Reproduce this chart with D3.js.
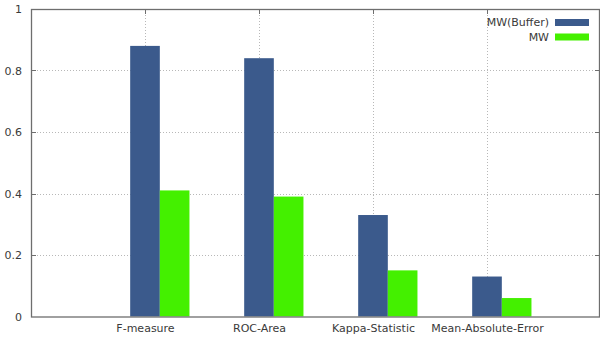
<!DOCTYPE html>
<html><head><meta charset="utf-8">
<script src="https://cdn.jsdelivr.net/npm/d3@7"></script>
<style>
body{margin:0;background:#fff;}
text{font-family:"DejaVu Sans",Verdana,sans-serif;}
</style></head>
<body><svg id="c" width="600" height="340"></svg>
<script>
const categories = ["F-measure","ROC-Area","Kappa-Statistic","Mean-Absolute-Error"];
const seriesNames = ["MW(Buffer)","MW"];
const mwBuffer = [0.88, 0.84, 0.33, 0.13];
const mw = [0.41, 0.39, 0.15, 0.06];
const yTicks = [0, 0.2, 0.4, 0.6, 0.8, 1];
const yTickLabels = ["0","0.2","0.4","0.6","0.8","1"];
const colors = ["#3b5a8c","#44f000"];

const svg = d3.select("#c");
const L = 31, R = 600, T = 9, B = 316.5;
const x = d3.scaleLinear().domain([-1, 4]).range([L, 601]);
const y = d3.scaleLinear().domain([0, 1]).range([B, T]);
const bw = 0.13;

// grid
const gridColor = "#b8b8b8";
svg.append("g").selectAll("line").data(yTicks.filter(d => d > 0 && d < 1)).join("line")
  .attr("x1", L).attr("x2", R).attr("y1", d => Math.round(y(d)) + 0.5).attr("y2", d => Math.round(y(d)) + 0.5)
  .attr("stroke", gridColor).attr("stroke-dasharray", "1,2");
svg.append("g").selectAll("line").data(categories).join("line")
  .attr("x1", (d, i) => Math.round(x(i)) + 0.5).attr("x2", (d, i) => Math.round(x(i)) + 0.5)
  .attr("y1", T).attr("y2", B)
  .attr("stroke", gridColor).attr("stroke-dasharray", "1,2");

// bars
const series = [mwBuffer, mw];
series.forEach((vals, s) => {
  svg.append("g").selectAll("rect").data(vals).join("rect")
    .attr("x", (d, i) => x(i - bw + s * 2 * bw))
    .attr("width", (d, i) => x(i + bw + s * 2 * bw) - x(i - bw + s * 2 * bw))
    .attr("y", d => y(d)).attr("height", d => B - y(d))
    .attr("fill", colors[s]);
});

// border
svg.append("rect").attr("x", L + 0.5).attr("y", T + 0.5).attr("width", R - L - 1).attr("height", B - T)
  .attr("fill", "none").attr("stroke", "#6e6e6e").attr("stroke-width", 1.3);

// y axis
const yAxis = d3.axisLeft(y).tickValues(yTicks).tickFormat((d, i) => yTickLabels[i]).tickSize(0).tickPadding(9);
const gy = svg.append("g").attr("transform", `translate(${L},0)`).call(yAxis);
gy.select(".domain").remove();
gy.selectAll("text").attr("font-size", 11).attr("fill", "#3a3a3a").attr("font-family", "DejaVu Sans, sans-serif");
// inward ticks left/right
svg.append("g").selectAll("line").data(yTicks.filter(d => d > 0 && d < 1)).join("line")
  .attr("x1", L).attr("x2", L + 5).attr("y1", d => Math.round(y(d)) + 0.5).attr("y2", d => Math.round(y(d)) + 0.5)
  .attr("stroke", "#6e6e6e");
svg.append("g").selectAll("line").data(yTicks.filter(d => d > 0 && d < 1)).join("line")
  .attr("x1", R - 5).attr("x2", R).attr("y1", d => Math.round(y(d)) + 0.5).attr("y2", d => Math.round(y(d)) + 0.5)
  .attr("stroke", "#6e6e6e");
// top ticks
svg.append("g").selectAll("line").data(categories).join("line")
  .attr("x1", (d, i) => Math.round(x(i)) + 0.5).attr("x2", (d, i) => Math.round(x(i)) + 0.5)
  .attr("y1", T).attr("y2", T + 5).attr("stroke", "#6e6e6e");

// x labels
const xAxis = d3.axisBottom(x).tickValues(d3.range(categories.length)).tickFormat(i => categories[i]).tickSize(0).tickPadding(8);
const gx = svg.append("g").attr("transform", `translate(0,${B})`).call(xAxis);
gx.select(".domain").remove();
gx.selectAll("text").attr("font-size", 11).attr("fill", "#3a3a3a").attr("font-family", "DejaVu Sans, sans-serif");

// legend
const leg = svg.append("g");
seriesNames.forEach((n, s) => {
  const cy = 22.5 + s * 14.5;
  leg.append("text").attr("x", 549).attr("y", cy).attr("dy", "0.35em").attr("text-anchor", "end")
    .attr("font-size", 11).attr("fill", "#3a3a3a").text(n);
  leg.append("rect").attr("x", 555).attr("y", cy - 3.5).attr("width", 34).attr("height", 7).attr("fill", colors[s]);
});
</script></body></html>
